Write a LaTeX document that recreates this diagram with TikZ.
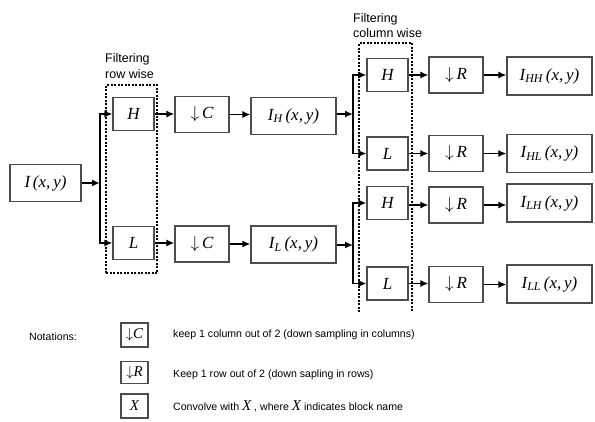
\documentclass[tikz,border=0pt]{standalone}
\usepackage{fontspec}
\setmainfont{Liberation Sans}
\newfontfamily\tms{Liberation Serif}
\usetikzlibrary{arrows.meta}
\newcommand{\mv}[1]{{\tms\itshape #1}}
\newcommand{\imgf}[1]{\mv{I\textsubscript{#1}\,(x,\,y)}}
\newcommand{\dn}{$\downarrow$\,}
\begin{document}
\begin{tikzpicture}[x=1pt,y=-1pt,
  blk/.style={draw=black!70,line width=1.1pt,fill=white,inner sep=0pt,
    minimum width=#1, font=\fontsize{17}{19}\selectfont},
  blk/.default=41pt,
  arr/.style={line width=1.8pt,-{Latex[length=8pt,width=7pt]}},
  dsh/.style={line width=1.5pt,dash pattern=on 2pt off 1.5pt},
  lab/.style={font=\fontsize{12.5}{14}\selectfont,anchor=base west,inner sep=0pt},
  note/.style={font=\fontsize{10.6}{12}\selectfont,anchor=west,inner sep=0pt}]
\useasboundingbox (0,0) rectangle (595,421);
% dashed groups
\draw[dsh] (106,273) rectangle (157,85);
\draw[dsh] (359,312) -- (359,43) -- (412,43) -- (412,312);
\node[lab] (fr1) at (105,62) {Filtering};
\node[lab] (fr2) at (105,78) {row wise};
\node[lab] (fc1) at (353,22) {Filtering};
\node[lab] (fc2) at (353,37) {column wise};
% nodes
\node[blk=71pt,minimum height=37pt] (I) at (45.5,183) {\mv{I\,(x,\,y)}};
\node[blk=41pt,minimum height=33pt] (rH) at (133.5,114) {\mv{H}};
\node[blk=41pt,minimum height=33pt] (rL) at (133.5,243) {\mv{L}};
\node[blk=54pt,minimum height=36pt] (dC1) at (202,114.5) {\dn\mv{C}};
\node[blk=54pt,minimum height=36pt] (dC2) at (202,244) {\dn\mv{C}};
\node[blk=85pt,minimum height=37pt] (IH) at (293.5,116) {\imgf{H}};
\node[blk=85pt,minimum height=37pt] (IL) at (293.5,244.5) {\imgf{L}};
\coordinate (s1) at (100,183);
\coordinate (s2) at (353,114);
\coordinate (s3) at (353,245);
\node[blk=41pt,minimum height=33pt] (cHH) at (387.5,75) {\mv{H}};
\node[blk=41pt,minimum height=33pt] (cHL) at (387.5,153.5) {\mv{L}};
\node[blk=41pt,minimum height=33pt] (cLH) at (387.5,203) {\mv{H}};
\node[blk=41pt,minimum height=33pt] (cLL) at (387.5,283.5) {\mv{L}};
\node[blk=54pt,minimum height=36pt] (dR1) at (456,75) {\dn\mv{R}};
\node[blk=54pt,minimum height=36pt] (dR2) at (456,153.5) {\dn\mv{R}};
\node[blk=54pt,minimum height=36pt] (dR3) at (456,205) {\dn\mv{R}};
\node[blk=54pt,minimum height=36pt] (dR4) at (456,284.5) {\dn\mv{R}};
\node[blk=85pt,minimum height=38pt] (IHH) at (549.5,76) {\imgf{HH}};
\node[blk=85pt,minimum height=38pt] (IHL) at (549.5,153.5) {\imgf{HL}};
\node[blk=85pt,minimum height=38pt] (ILH) at (549.5,203) {\imgf{LH}};
\node[blk=85pt,minimum height=38pt] (ILL) at (549.5,284) {\imgf{LL}};
% connectors
\draw[arr] (I) -- (s1);
\draw[arr] (s1) |- (rH);
\draw[arr] (s1) |- (rL);
\draw[arr] (rH) -- (rH -| dC1.west);
\draw[arr] (rL) -- (rL -| dC2.west);
\draw[arr] (dC1) -- (dC1 -| IH.west);
\draw[arr] (dC2) -- (dC2 -| IL.west);
\draw[arr] (IH.east |- s2) -- (s2);
\draw[arr] (IL.east |- s3) -- (s3);
\draw[arr] (s2) |- (cHH);
\draw[arr] (s2) |- (cHL);
\draw[arr] (s3) |- (cLH);
\draw[arr] (s3) |- (cLL);
\draw[arr] (cHH) -- (cHH -| dR1.west);
\draw[arr] (cHL) -- (cHL -| dR2.west);
\draw[arr] (cLH.east |- dR3) -- (dR3.west);
\draw[arr] (cLL) -- (cLL -| dR4.west);
\draw[arr] (dR1) -- (dR1 -| IHH.west);
\draw[arr] (dR2) -- (dR2 -| IHL.west);
\draw[arr] (dR3) -- (dR3 -| ILH.west);
\draw[arr] (dR4) -- (dR4 -| ILL.west);
% notations
\node[note] (nt) at (29,337) {Notations:};
\node[blk=27pt,minimum height=24pt,font=\fontsize{15}{17}\selectfont] (nC) at (134.5,335) {$\downarrow$\mv{C}};
\node[blk=27pt,minimum height=22pt,font=\fontsize{15}{17}\selectfont] (nR) at (134.5,372.5) {$\downarrow$\mv{R}};
\node[blk=27pt,minimum height=24pt,font=\fontsize{15}{17}\selectfont] (nX) at (134.5,406) {\mv{X}};
\node[note] (tC) at (173,335) {keep 1 column out of 2 (down sampling in columns)};
\node[note] (tR) at (173,375) {Keep 1 row out of 2 (down sapling in rows)};
\node[note] (tX) at (173,406) {Convolve with {\fontsize{15}{15}\selectfont\mv{X}} , where {\fontsize{15}{15}\selectfont\mv{X}} indicates block name};
\end{tikzpicture}
\end{document}
